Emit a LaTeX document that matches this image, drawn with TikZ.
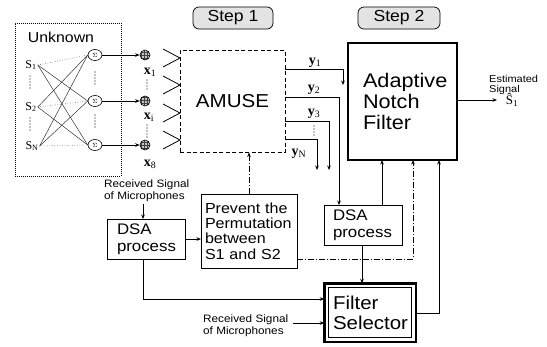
\documentclass[tikz,border=0pt]{standalone}
\usepackage{fontspec}
\setmainfont{Liberation Sans}[FakeStretch=1.1]
\newfontfamily\serifff{Liberation Serif}
\usetikzlibrary{arrows.meta,shapes.geometric,patterns}
\begin{document}
\begin{tikzpicture}[x=1pt,y=-1pt,
  arr/.style={-{Stealth[length=4.5pt,width=3.6pt]}},
  ln/.style={line width=0.8pt},
  box/.style={draw, line width=0.9pt, inner ysep=0pt, outer sep=0pt, align=left},
  dashdot/.style={dash pattern=on 6pt off 2pt on 1pt off 2pt},
  vdots/.style={line width=1.3pt, line cap=round, dash pattern=on 0pt off 3pt},
  stepbox/.style={draw, line width=0.7pt, rounded corners=6pt, fill=gray!22, minimum height=22pt, inner sep=0pt, font=\fontsize{16}{18}\selectfont},
  sig/.style={ellipse, draw, line width=0.6pt, minimum width=14pt, minimum height=11pt, inner sep=0pt, font=\fontsize{6}{6}\selectfont},
  hc/.style={circle, draw, line width=0.6pt, minimum size=10pt, inner sep=0pt, preaction={fill=gray!45}, pattern=grid, pattern color=black!75},
  slab/.style={font=\serifff\fontsize{12}{12}\selectfont, inner sep=1pt},
  vlab/.style={font=\serifff\fontsize{14}{14}\selectfont, inner sep=0pt},
  small/.style={font=\fontsize{10.7}{12}\selectfont, align=left, anchor=west, inner sep=0pt},
  srcline/.style={line width=0.5pt, gray!40!black},
]
\useasboundingbox (0,0) rectangle (547,346);

% Unknown region
\node[draw, line width=0.9pt, dash pattern=on 1pt off 1pt, minimum width=106pt, minimum height=153pt, inner sep=0pt] (unk) at (68,99.5) {};
\node[font=\fontsize{14.4}{16}\selectfont, inner sep=0pt] (unkt) at (61,37) {Unknown};

% steps
\node[stepbox, minimum width=80pt] (st1) at (233,18) {Step 1};
\node[stepbox, minimum width=82pt] (st2) at (399,18) {Step 2};

% sources
\node[slab] (s1) at (31,65) {S\textsubscript{1}};
\node[slab] (s2) at (31,107) {S\textsubscript{2}};
\node[slab] (sN) at (32,146) {S\textsubscript{N}};
\draw[vdots] (30,76) -- (30,89);
\draw[vdots] (30,118) -- (30,132);

% sums
\node[sig] (g1) at (95,55) {$\Sigma$};
\node[sig] (g2) at (95,101) {$\Sigma$};
\node[sig] (g3) at (95,145) {$\Sigma$};
\draw[vdots] (95,72) -- (95,86);
\draw[vdots] (95,115) -- (95,129);

% mixing lines
\draw[srcline, dotted] (s1.east) -- (g1.west);
\draw[srcline] (s1.east) -- (g2.west);
\draw[srcline] (s1.east) -- (g3.west);
\draw[srcline] (s2.east) -- (g1.west);
\draw[srcline, dotted] (s2.east) -- (g2.west);
\draw[srcline] (s2.east) -- (g3.west);
\draw[srcline] (sN.east) -- (g1.west);
\draw[srcline] (sN.east) -- (g2.west);
\draw[srcline, dotted] (sN.east) -- (g3.west);

% microphones
\node[hc] (h1) at (145,55) {};
\node[hc] (h2) at (145,101) {};
\node[hc] (h3) at (145,145) {};
\foreach \i in {1,2,3} \draw[ln,arr] (g\i) -- (h\i);
\node[vlab] (x1) at (150,72) {\textbf{x}\textsubscript{1}};
\node[vlab] (xi) at (149,117) {\textbf{x}\textsubscript{i}};
\node[vlab] (x8) at (150,164) {\textbf{x}\textsubscript{8}};
\draw[vdots] (147,80) -- (147,92);
\draw[vdots] (147,125) -- (147,137);

% chevrons
\foreach \yy in {58,85,113,140} \draw[ln] (163,{\yy-9}) -- (180,\yy) -- (163,{\yy+9});

% AMUSE
\node[draw, line width=0.9pt, dash pattern=on 4pt off 2.5pt, minimum width=105pt, minimum height=102pt, inner sep=0pt, font=\fontsize{18.7}{20}\selectfont] (amuse) at (232.5,101) {AMUSE};

% Adaptive notch filter
\node[box, line width=1.1pt, minimum width=109pt, minimum height=117pt, text width=79pt, inner xsep=15pt, font=\fontsize{19.7}{21}\selectfont] (anf) at (402.5,101.5) {Adaptive\\Notch\\Filter};

% y outputs
\coordinate (y1e) at (343,85);
\coordinate (y3e) at (329,170);
\coordinate (yNe) at (317,170);
\node[vlab] (ly1) at (315,63) {\textbf{y}\textsubscript{1}};
\node[vlab] (ly2) at (314,90) {\textbf{y}\textsubscript{2}};
\node[vlab] (ly3) at (314,114) {\textbf{y}\textsubscript{3}};
\node[vlab] (lyN) at (299,154) {\textbf{y}\textsubscript{N}};
\draw[vdots] (314,126) -- (314,137);

% lower boxes
\node[box, minimum width=96pt, minimum height=74pt, text width=88pt, inner xsep=4pt, font=\fontsize{14.6}{15.4}\selectfont] (prev) at (249,231) {Prevent the\\Permutation\\between\\S1 and S2};
\node[box, minimum width=78pt, minimum height=40pt, text width=58pt, inner xsep=10pt, font=\fontsize{15.3}{17}\selectfont] (dsal) at (146,239) {DSA\\process};
\node[box, minimum width=78pt, minimum height=40pt, text width=60pt, inner xsep=9pt, font=\fontsize{15.3}{17}\selectfont] (dsar) at (363,225) {DSA\\process};
\node[box, line width=2.5pt, minimum width=91.5pt, minimum height=58.5pt, text width=74pt, inner xsep=8.75pt, font=\fontsize{18.6}{20}\selectfont] (fs) at (370,312.5) {Filter\\Selector};
\draw[line width=0.9pt] ([shift={(4.5,4.5)}]fs.north west) rectangle ([shift={(-4.5,-4.5)}]fs.south east);

% texts
\node[small] (rec1) at (104,191) {Received Signal\\of Microphones};
\node[small] (rec2) at (203,326) {Received Signal\\of Microphones};
\node[small, font=\fontsize{10}{10.5}\selectfont] (est) at (489,85) {Estimated\\Signal};
\node[font=\serifff\fontsize{13}{13}\selectfont, inner sep=0pt] (shat) at (512,100) {\^{S}\textsubscript{1}};

% connectors
\draw[ln,arr] (amuse.east |- 0,69) -| (y1e);
\draw[ln,arr] (amuse.east |- 0,97) -| (dsar.north -| 339,0);
\draw[ln,arr] (amuse.east |- 0,121) -| (y3e);
\draw[ln,arr] (amuse.east |- 0,139) -| (yNe);
\draw[ln,arr,dashdot] (prev.north) -- (prev.north |- amuse.south);
\draw[ln,arr,dashdot] (prev.east |- 0,259) -| (anf.south -| 413,0);
\draw[ln,arr] (dsar.north -| 382,0) -- (anf.south -| 382,0);
\draw[ln,arr] (dsar.south -| 362,0) -- (fs.north -| 362,0);
\draw[ln,arr] (fs.east |- 0,313) -| (anf.south -| 439,0);
\draw[ln,arr] (dsal.east) -- (dsal.east -| prev.west);
\draw[ln,arr] (dsal.south -| 143,0) |- (fs.west |- 0,299);
\coordinate (r2s) at (293,323);
\draw[ln,arr] (r2s) -- (fs.west |- r2s);
\coordinate (r1s) at (143,204);
\draw[ln,arr] (r1s) -- (r1s |- dsal.north);
\coordinate (oute) at (497,100);
\draw[ln,arr] (anf.east |- oute) -- (oute);
\end{tikzpicture}
\end{document}
